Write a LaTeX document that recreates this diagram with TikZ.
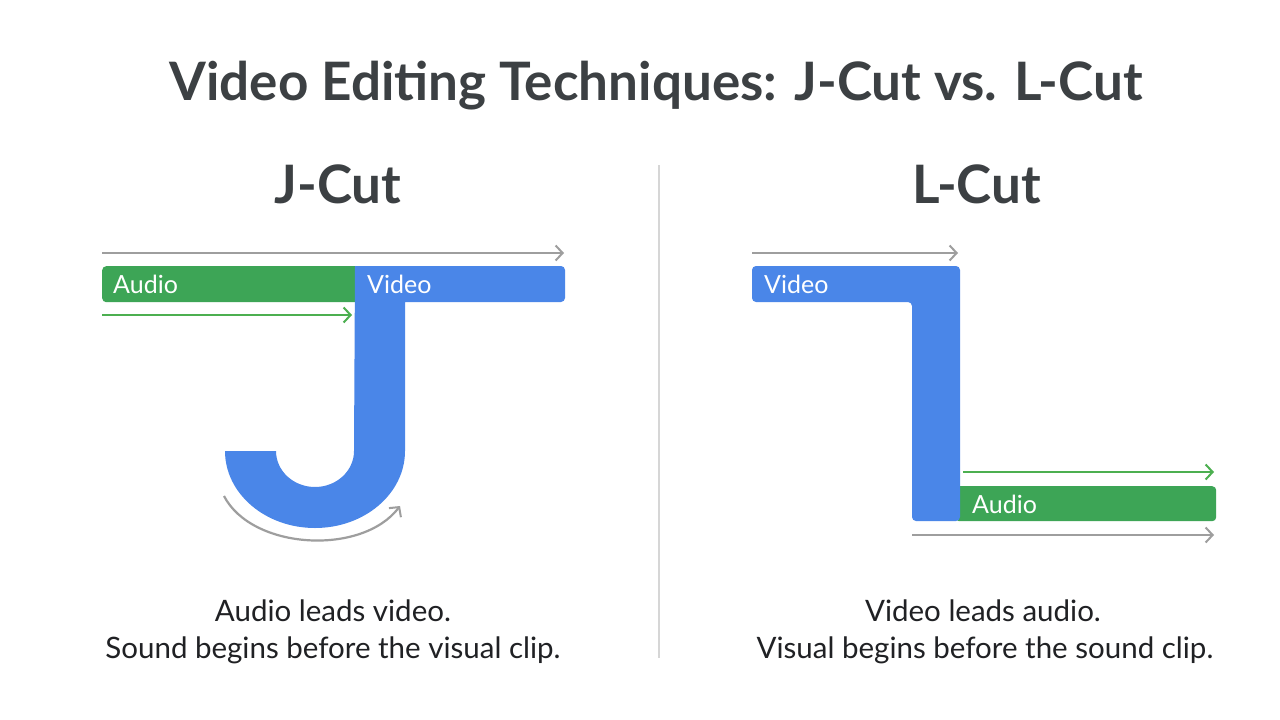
\documentclass[tikz,border=0pt]{standalone}
\usepackage{fontspec}
\setmainfont{Lato}
\usetikzlibrary{arrows.meta}
\definecolor{gbar}{HTML}{3DA556}
\definecolor{bbar}{HTML}{4A86E8}
\definecolor{garrow}{HTML}{4CAF50}
\definecolor{grarrow}{HTML}{9E9E9E}
\definecolor{titlec}{HTML}{3C4043}
\definecolor{textc}{HTML}{202124}
\definecolor{divc}{HTML}{D6D6D6}
\tikzset{
  grayarr/.style={draw=grarrow, line width=2.2pt, -{Straight Barb[length=7pt,width=15pt,line width=2pt]}},
  greenarr/.style={draw=garrow, line width=2.2pt, -{Straight Barb[length=7pt,width=15pt,line width=2pt]}},
  barlbl/.style={text=white, font=\fontsize{25}{28}\selectfont, inner sep=0pt, anchor=base west},
  captxt/.style={text=textc, font=\fontsize{29.5}{34}\selectfont, inner sep=0pt, anchor=base},
  headtxt/.style={text=titlec, font=\fontsize{53}{60}\selectfont\bfseries, inner sep=0pt, anchor=base},
  barbox/.style={rectangle, rounded corners=4pt, inner sep=0pt, anchor=north west},
}
\begin{document}
\begin{tikzpicture}[x=1pt,y=-1pt]
\useasboundingbox (0,0) rectangle (1280,720);
\fill[white] (0,0) rectangle (1280,720);

% title
\node[headtxt] (title) at (656,100) {Video Editing Techniques: J-Cut vs. L-Cut};

% divider
\coordinate (d1) at (659,165);
\coordinate (d2) at (659,658);
\draw[divc, line width=1.5pt] (d1) -- (d2);

% ---------- J-Cut ----------
\node[headtxt] (jhead) at (338,203) {J-Cut};

\coordinate (jg0) at (102,253);
\coordinate (jg1) at (564,253);
\draw[grayarr] (jg0) -- (jg1);

\node[barbox, fill=gbar, minimum width=262pt, minimum height=36pt] (jaudio) at (102,266) {};
\fill[bbar, rounded corners=4pt] (355,266) -- (565,266) -- (565,302) -- (420,302) [sharp corners] -- (405,302)
  -- (405,451) arc[start angle=0, end angle=180, x radius=90, y radius=77]
  -- (276,451) arc[start angle=180, end angle=0, x radius=39, y radius=36]
  -- cycle;
\node[barlbl] (jaudiot) at (113,293) {Audio};
\node[barlbl] (jvideot) at (367,293) {Video};

\coordinate (ja0) at (102,315);
\coordinate (ja1) at (352,315);
\draw[greenarr] (ja0) -- (ja1);

\coordinate (jc0) at (224,496);
\coordinate (jc1) at (400,506);
\draw[grayarr] (jc0) .. controls (252,550) and (362,556) .. (jc1);

\node[captxt] (jcap1) at (333,621) {Audio leads video.};
\node[captxt] (jcap2) at (333,658) {Sound begins before the visual clip.};

% ---------- L-Cut ----------
\node[headtxt] (lhead) at (977,203) {L-Cut};

\coordinate (lg0) at (752,253);
\coordinate (lg1) at (958,253);
\draw[grayarr] (lg0) -- (lg1);

\node[barbox, fill=gbar, minimum width=261pt, minimum height=35pt] (laudio) at (955,486) {};
\fill[bbar, rounded corners=4pt] (752,266) -- (960,266) -- (960,521) -- (912,521) -- (912,302) -- (752,302) -- cycle;
\node[barlbl] (lvideot) at (764,293) {Video};
\node[barlbl] (laudiot) at (972,513) {Audio};

\coordinate (la0) at (963,472);
\coordinate (la1) at (1214,472);
\draw[greenarr] (la0) -- (la1);

\coordinate (lb0) at (912,535);
\coordinate (lb1) at (1214,535);
\draw[grayarr] (lb0) -- (lb1);

\node[captxt] (lcap1) at (983,621) {Video leads audio.};
\node[captxt] (lcap2) at (985,658) {Visual begins before the sound clip.};
\end{tikzpicture}
\end{document}
